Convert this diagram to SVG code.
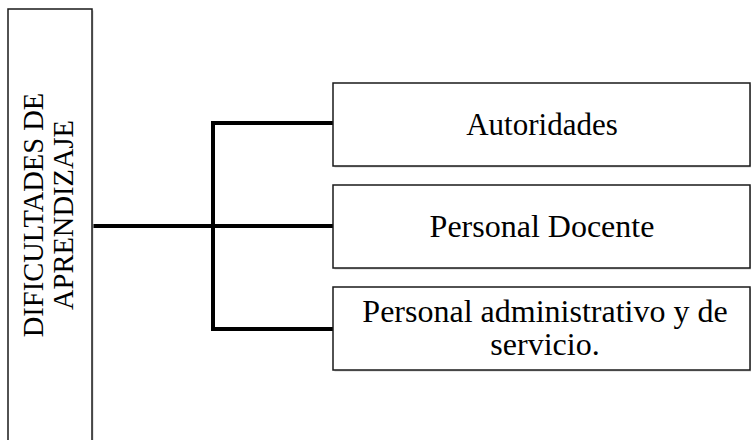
<svg xmlns="http://www.w3.org/2000/svg" width="751" height="440" viewBox="0 0 751 440">
<style>
.box{fill:#fff;stroke:#1a1a1a;stroke-width:1.5}
.shadow{fill:#cfcfcf}
.t{font-family:"Liberation Serif","Times New Roman",serif;fill:#000;text-anchor:middle}
.conn{fill:none;stroke:#000;stroke-width:4;stroke-linejoin:miter}
</style>
<rect width="751" height="440" fill="#fff"/>
<g id="connectors">
<path class="conn" d="M92 226 H213"/>
<path class="conn" d="M333 123 H213 V329 H333"/>
<path class="conn" d="M213 226 H333"/>
</g>
<g id="node-main">
<rect class="shadow" x="9.5" y="10.5" width="84" height="440"/>
<rect class="box" x="8" y="9" width="84" height="440"/>
<text class="t" font-size="28.5" transform="translate(43 215) rotate(-90)">DIFICULTADES DE</text>
<text class="t" font-size="28.5" transform="translate(73 215) rotate(-90)">APRENDIZAJE</text>
</g>
<g id="node-autoridades">
<rect class="shadow" x="334.5" y="84.5" width="417" height="83"/>
<rect class="box" x="333" y="83" width="417" height="83"/>
<text class="t" font-size="31" x="542" y="135">Autoridades</text>
</g>
<g id="node-docente">
<rect class="shadow" x="334.5" y="186.5" width="417" height="83"/>
<rect class="box" x="333" y="185" width="417" height="83"/>
<text class="t" font-size="32" x="542" y="237">Personal Docente</text>
</g>
<g id="node-administrativo">
<rect class="shadow" x="334.5" y="288.5" width="417" height="83"/>
<rect class="box" x="333" y="287" width="417" height="83"/>
<text class="t" font-size="32" x="545" y="322">Personal administrativo y de</text>
<text class="t" font-size="32" x="545" y="355">servicio.</text>
</g>
</svg>
